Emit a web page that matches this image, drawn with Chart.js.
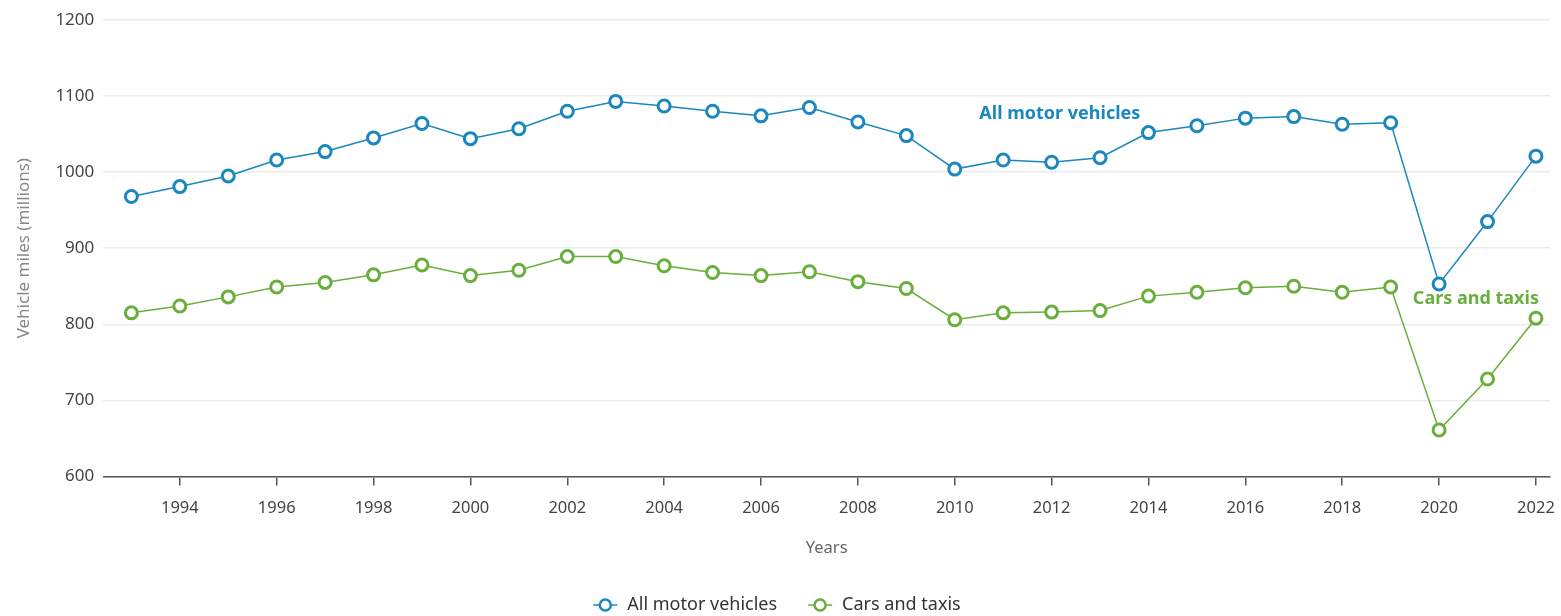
<!DOCTYPE html>
<html><head><meta charset="utf-8">
<script src="https://cdn.jsdelivr.net/npm/chart.js@4"></script>
<style>html,body{margin:0;padding:0;background:#fff}#wrap{width:1561px;height:616px}</style>
</head><body><div id="wrap"><canvas id="c" width="1561" height="616"></canvas></div>
<script>
const years = [1993,1994,1995,1996,1997,1998,1999,2000,2001,2002,2003,2004,2005,2006,2007,2008,2009,2010,2011,2012,2013,2014,2015,2016,2017,2018,2019,2020,2021,2022];
const allMotorVehicles = [968,981,995,1016,1027,1045,1064,1044,1057,1080,1093,1087,1080,1074,1085,1066,1048,1004,1016,1013,1019,1052,1061,1071,1073,1063,1065,853,935,1021];
const carsAndTaxis = [815,824,836,849,855,865,878,864,871,889,889,877,868,864,869,856,847,806,815,816,818,837,842,848,850,842,849,661,728,808];
const xTicks = [1994,1996,1998,2000,2002,2004,2006,2008,2010,2012,2014,2016,2018,2020,2022];
const yTicks = [600,700,800,900,1000,1100,1200];
const seriesNames = ['All motor vehicles','Cars and taxis'];
const BLUE = '#1b87bf', GREEN = '#6aae3c';
const FONT = "'Noto Sans', 'Open Sans', sans-serif";

const labelPlugin = {
  id: 'seriesLabels',
  afterDatasetsDraw(chart){
    const {ctx, scales:{x,y}} = chart;
    ctx.save();
    ctx.font = "bold 18px " + FONT;
    ctx.textAlign = 'center'; ctx.textBaseline = 'middle';
    ctx.fillStyle = BLUE;
    ctx.fillText(seriesNames[0], x.getPixelForValue(2012.17), y.getPixelForValue(1077));
    ctx.fillStyle = GREEN;
    ctx.fillText(seriesNames[1], x.getPixelForValue(2020.76), y.getPixelForValue(834));
    ctx.restore();
  },
  afterDraw(chart){
    const ctx = chart.ctx;
    const cy = 605, gap = 31, iconW = 24, iconGap = 10;
    ctx.save();
    ctx.font = "18px " + FONT;
    ctx.textBaseline = 'middle'; ctx.textAlign = 'left';
    const items = chart.data.datasets.map(d=>({text:d.label, color:d.borderColor, w:ctx.measureText(d.label).width}));
    const total = items.reduce((s,it)=>s+iconW+iconGap+it.w,0) + gap*(items.length-1);
    let xx = 777 - total/2;
    items.forEach(it=>{
      ctx.strokeStyle = it.color; ctx.lineWidth = 1.5;
      ctx.beginPath(); ctx.moveTo(xx, cy); ctx.lineTo(xx+iconW, cy); ctx.stroke();
      ctx.fillStyle = '#fff'; ctx.lineWidth = 2.5;
      ctx.beginPath(); ctx.arc(xx+iconW/2, cy, 5.5, 0, Math.PI*2); ctx.fill(); ctx.stroke();
      ctx.fillStyle = '#333';
      ctx.fillText(it.text, xx+iconW+iconGap, cy);
      xx += iconW + iconGap + it.w + gap;
    });
    ctx.restore();
  }
};

const mk = (arr)=> years.map((yr,i)=>({x:yr,y:arr[i]}));
new Chart(document.getElementById('c'), {
  type: 'line',
  data: { datasets: [
    { label: seriesNames[0], data: mk(allMotorVehicles), borderColor: BLUE, backgroundColor:'#fff',
      pointBorderColor: BLUE, pointBackgroundColor:'#fff', pointRadius:6, pointBorderWidth:3, borderWidth:1.5 },
    { label: seriesNames[1], data: mk(carsAndTaxis), borderColor: GREEN, backgroundColor:'#fff',
      pointBorderColor: GREEN, pointBackgroundColor:'#fff', pointRadius:6, pointBorderWidth:3, borderWidth:1.5 }
  ]},
  options: {
    responsive:false, animation:false, devicePixelRatio:1,
    layout:{ padding:{ left:10, right:11, top:20, bottom:58 } },
    plugins:{ legend:{display:false}, tooltip:{enabled:false} },
    scales:{
      x:{ type:'linear', min:1992.42, max:2022.29,
        afterBuildTicks(ax){ ax.ticks = xTicks.map(v=>({value:v})); },
        afterFit(ax){ ax.paddingRight = 0; ax.paddingLeft = 0; },
        grid:{ display:true, drawOnChartArea:false, drawTicks:true, tickLength:9, color:'#555', lineWidth:1.5 },
        border:{ display:true, color:'#555', width:1.5 },
        ticks:{ color:'#444', font:{family:FONT, size:16.5}, padding:13, maxRotation:0, autoSkip:false,
          callback:(v)=>String(v) },
        title:{ display:true, text:'Years', color:'#666', font:{family:FONT, size:16.5}, padding:{top:7, bottom:0} }
      },
      y:{ min:600, max:1200,
        afterBuildTicks(ax){ ax.ticks = yTicks.map(v=>({value:v})); },
        grid:{ color:'#ebebeb', lineWidth:1.5, drawTicks:false },
        border:{ display:false },
        ticks:{ color:'#444', font:{family:FONT, size:17}, padding:9, callback:(v)=>String(v) },
        title:{ display:true, text:'Vehicle miles (millions)', color:'#888', font:{family:FONT, size:17}, padding:{bottom:12} }
      }
    }
  },
  plugins:[labelPlugin]
});
</script></body></html>
